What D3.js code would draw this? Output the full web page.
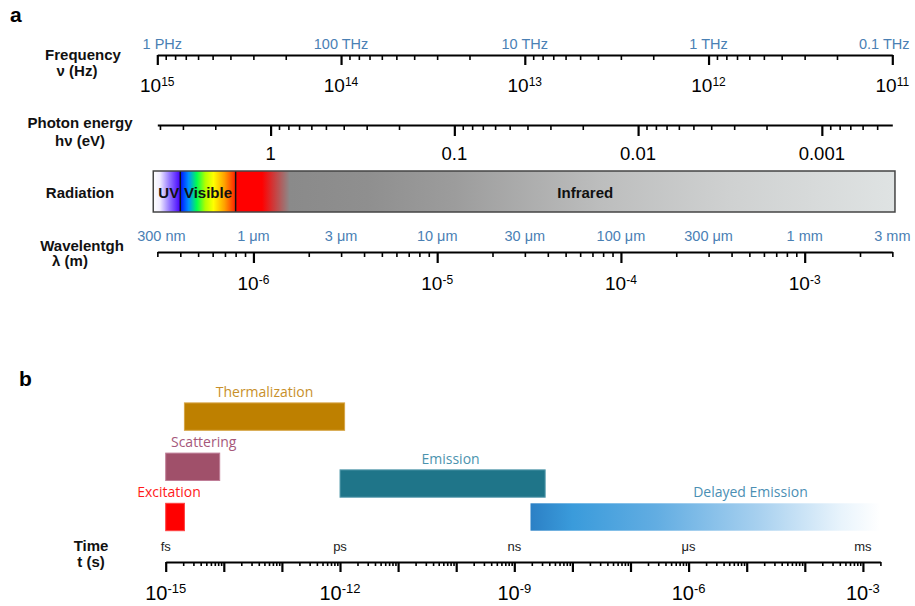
<!DOCTYPE html>
<html>
<head>
<meta charset="utf-8">
<script src="https://cdn.jsdelivr.net/npm/d3@7"></script>
<style>
body { margin: 0; background: #fff; }
svg { display: block; font-family: "Liberation Sans", Arial, sans-serif; }
</style>
</head>
<body>
<svg></svg>
<script>
const width = 915, height = 606;

// panel a: spectrum axes
const freqDecades = [1e15, 1e14, 1e13, 1e12, 1e11];
const freqExponents = ["15", "14", "13", "12", "11"];
const freqUnitLabels = ["1 PHz", "100 THz", "10 THz", "1 THz", "0.1 THz"];
const energyTicks = [1, 0.1, 0.01, 0.001];
const energyLabels = ["1", "0.1", "0.01", "0.001"];
const waveUnitValues = [3e-7, 1e-6, 3e-6, 1e-5, 3e-5, 1e-4, 3e-4, 1e-3, 3e-3];
const waveUnitLabels = ["300 nm", "1 μm", "3 μm", "10 μm", "30 μm", "100 μm", "300 μm", "1 mm", "3 mm"];
const waveDecades = [1e-6, 1e-5, 1e-4, 1e-3];
const waveExponents = ["-6", "-5", "-4", "-3"];
const bandNames = ["UV", "Visible", "Infrared"];
const bandFrom = [2.85e-7, 4e-7, 8e-7];
const bandTo = [4e-7, 8e-7, 3.1e-3];

// panel b: time scales of processes
const timeDecades = [1e-15, 1e-12, 1e-9, 1e-6, 1e-3];
const timeExponents = ["-15", "-12", "-9", "-6", "-3"];
const timeUnits = ["fs", "ps", "ns", "μs", "ms"];
const processes = ["Excitation", "Scattering", "Thermalization", "Emission", "Delayed Emission"];
const processStart = [1e-15, 1e-15, 2.1e-15, 1e-12, 1.9e-9];
const processEnd = [2.1e-15, 8.5e-15, 1.2e-12, 3.4e-9, 2e-3];
const processLane = [0, 3, 6, 2, 0];

const planck = 4.135667e-15; // eV s
const light = 2.998e8;       // m/s

const svg = d3.select("svg").attr("width", width).attr("height", height);
const defs = svg.append("defs");

// scales (frequency, energy and wavelength share the same pixel span)
const xFreq = d3.scaleLog().domain([1e15, 1e11]).range([157.3, 892.3]);
const xEnergy = d3.scaleLog().domain([1e15 * planck, 1e11 * planck]).range(xFreq.range());
const xWave = d3.scaleLog().domain([light / 1e15, light / 1e11]).range(xFreq.range());
const xTime = d3.scaleLog().domain([1e-15, 2e-3]).range([165.7, 880.4]);
const yLane = d3.scaleLinear().domain([0, 6]).range([530.7, 430.3]);

// all 1..9 x 10^n values inside [lo, hi]
function logTicks(lo, hi) {
  const out = [];
  for (let e = Math.floor(Math.log10(lo)) - 1; e <= Math.ceil(Math.log10(hi)); e++) {
    for (let m = 1; m < 10; m++) {
      const v = m * Math.pow(10, e);
      if (v >= lo * 0.999 && v <= hi * 1.001) out.push({ v: v, major: m === 1 });
    }
  }
  return out;
}

function drawAxis(scale, y, minorLen, majorLen) {
  const dom = scale.domain();
  const ticks = logTicks(Math.min(dom[0], dom[1]), Math.max(dom[0], dom[1]));
  const g = svg.append("g")
    .attr("transform", `translate(0,${y})`)
    .call(d3.axisBottom(scale)
      .tickValues(ticks.map(t => t.v))
      .tickSize(minorLen)
      .tickSizeOuter(0)
      .tickFormat(""));
  g.select(".domain").attr("stroke", "#000").attr("stroke-width", 2);
  g.selectAll(".tick line")
    .attr("stroke", "#000")
    .attr("stroke-width", 1.6)
    .filter((d, i) => ticks[i].major)
    .attr("y2", majorLen)
    .attr("stroke-width", 2.2);
  return g;
}

function powerLabel(x, y, exp, size, supSize, rise) {
  const t = svg.append("text")
    .attr("x", x).attr("y", y)
    .attr("text-anchor", "middle")
    .attr("font-size", size)
    .attr("fill", "#000");
  t.append("tspan").text("10");
  t.append("tspan").attr("dy", -rise).attr("font-size", supSize).text(exp);
}

function sideLabel(text, x, y) {
  svg.append("text")
    .attr("x", x).attr("y", y)
    .attr("text-anchor", "middle")
    .attr("font-size", 15)
    .attr("font-weight", "bold")
    .attr("fill", "#111")
    .text(text);
}

// panel letters
svg.append("text").attr("x", 10).attr("y", 22).attr("font-size", 21).attr("font-weight", "bold").text("a");
svg.append("text").attr("x", 19).attr("y", 386).attr("font-size", 21).attr("font-weight", "bold").text("b");

// ---------- Frequency ----------
sideLabel("Frequency", 83, 60);
sideLabel("ν (Hz)", 77, 76);
drawAxis(xFreq, 55, 5, 10);
freqUnitLabels.forEach((s, i) => {
  const dx = i === 0 ? 5 : (i === freqUnitLabels.length - 1 ? -8 : 0);
  svg.append("text")
    .attr("x", xFreq(freqDecades[i]) + dx).attr("y", 49)
    .attr("text-anchor", "middle").attr("font-size", 14.5)
    .attr("fill", "#4a80b4").text(s);
});
freqDecades.forEach((f, i) => powerLabel(xFreq(f), 91.5, freqExponents[i], 19, 12, 6));

// ---------- Photon energy ----------
sideLabel("Photon energy", 80, 127.5);
sideLabel("hν (eV)", 80, 145.5);
drawAxis(xEnergy, 125, 5, 11);
energyTicks.forEach((e, i) => {
  svg.append("text")
    .attr("x", xEnergy(e)).attr("y", 160)
    .attr("text-anchor", "middle").attr("font-size", 18.5)
    .attr("fill", "#000").text(energyLabels[i]);
});

// ---------- Radiation bar ----------
sideLabel("Radiation", 80, 198);
const barTop = 171, barH = 41;

function gradient(id, stops) {
  const lg = defs.append("linearGradient").attr("id", id)
    .attr("x1", "0%").attr("x2", "100%").attr("y1", "0%").attr("y2", "0%");
  stops.forEach(s => lg.append("stop").attr("offset", s[0]).attr("stop-color", s[1]));
}
gradient("gUV", [[0, "#ffffff"], [0.25, "#f0ecff"], [0.6, "#9578ff"], [1, "#4300ff"]]);
gradient("gVis", [[0, "#0010ff"], [0.15, "#0090ff"], [0.3, "#00ff50"], [0.45, "#b0ff00"],
  [0.6, "#ffff00"], [0.8, "#ffa000"], [1, "#ff2000"]]);
gradient("gIR", [[0, "#ff0000"], [0.04, "#ff0000"], [0.082, "#8a8a8a"], [0.2, "#8f8f8f"],
  [0.33, "#9c9c9c"], [0.55, "#bcbdbd"], [0.75, "#cfd1d1"], [1, "#dfe3e3"]]);
const bandFill = ["url(#gUV)", "url(#gVis)", "url(#gIR)"];

bandNames.forEach((b, i) => {
  svg.append("rect")
    .attr("x", xWave(bandFrom[i])).attr("y", barTop)
    .attr("width", xWave(bandTo[i]) - xWave(bandFrom[i])).attr("height", barH)
    .attr("fill", bandFill[i]);
});
// dividers between bands
[bandFrom[1], bandFrom[2]].forEach(w => {
  svg.append("line")
    .attr("x1", xWave(w)).attr("x2", xWave(w))
    .attr("y1", barTop).attr("y2", barTop + barH)
    .attr("stroke", "#111").attr("stroke-width", 1.5);
});
svg.append("rect")
  .attr("x", xWave(bandFrom[0])).attr("y", barTop)
  .attr("width", xWave(bandTo[2]) - xWave(bandFrom[0])).attr("height", barH)
  .attr("fill", "none").attr("stroke", "#444").attr("stroke-width", 1.5);
const bandShift = [2, 0, 20];
bandNames.forEach((b, i) => {
  const cx = (xWave(bandFrom[i]) + xWave(bandTo[i])) / 2 + bandShift[i];
  svg.append("text")
    .attr("x", cx).attr("y", 197.5)
    .attr("text-anchor", "middle").attr("font-size", 15)
    .attr("font-weight", "bold").attr("fill", "#111")
    .text(b);
});

// ---------- Wavelength ----------
sideLabel("Wavelentgh", 82, 250.5);
sideLabel("λ (m)", 70, 266);
drawAxis(xWave, 252, 5, 11);
waveUnitLabels.forEach((s, i) => {
  const dx = i === 0 ? 4 : 0;
  svg.append("text")
    .attr("x", xWave(waveUnitValues[i]) + dx).attr("y", 240.5)
    .attr("text-anchor", "middle").attr("font-size", 14.5)
    .attr("fill", "#4a80b4").text(s);
});
waveDecades.forEach((w, i) => powerLabel(xWave(w), 290, waveExponents[i], 19, 12, 6));

// ---------- Panel b: processes ----------
const procFill = ["#ff0000", "#a0506a", "#be8000", "#1f7589", "url(#gDelay)"];
const procStroke = ["#ff4040", "#c07e98", "#d6a444", "#5d9fb0", "none"];
const procText = ["#ff1a1a", "#a6587a", "#c8902a", "#4b93ae", "#4b8fb4"];
const labelShift = [-6, 11, 0, 8, 45];
gradient("gDelay", [[0, "#2c80c5"], [0.12, "#3a9bdb"], [0.36, "#62ade2"], [0.65, "#a7d0ef"],
  [0.89, "#e9f4fc"], [1, "#ffffff"]]);
const laneH = 27.4;

processes.forEach((p, i) => {
  const xa = xTime(processStart[i]), xb = xTime(processEnd[i]);
  const yb = yLane(processLane[i]);
  svg.append("rect")
    .attr("x", xa).attr("y", yb - laneH)
    .attr("width", xb - xa).attr("height", laneH)
    .attr("fill", procFill[i])
    .attr("stroke", procStroke[i]).attr("stroke-width", 1);
  svg.append("text")
    .attr("x", (xa + xb) / 2 + labelShift[i]).attr("y", yb - laneH - 6)
    .attr("text-anchor", "middle")
    .attr("font-family", "'Open Sans', sans-serif")
    .attr("font-size", 14)
    .attr("fill", procText[i])
    .text(p);
});

// ---------- Time axis ----------
sideLabel("Time", 91, 551);
sideLabel("t (s)", 91, 567);
drawAxis(xTime, 562, 4, 10);
timeUnits.forEach((u, i) => {
  svg.append("text")
    .attr("x", xTime(timeDecades[i])).attr("y", 550.5)
    .attr("text-anchor", "middle").attr("font-size", 13)
    .attr("fill", "#222").text(u);
});
timeDecades.forEach((t, i) => powerLabel(xTime(t), 600, timeExponents[i], 20, 13, 7));
</script>
</body>
</html>
